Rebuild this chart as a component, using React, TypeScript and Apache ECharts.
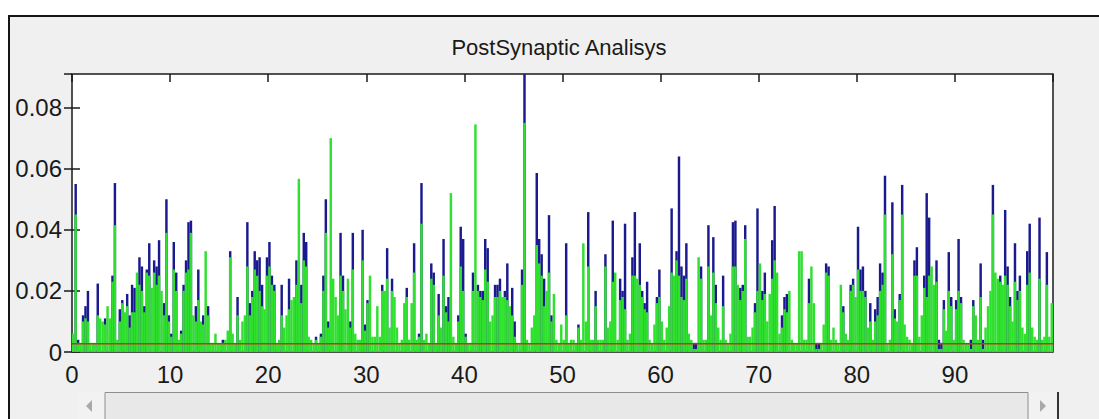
import React, { useEffect, useRef } from "react";
import * as echarts from "echarts";

const TITLE = "PostSynaptic Analisys";
const BIN_WIDTH = 0.25;
const X_MIN = 0;
const X_MAX = 100;
const X_INTERVAL = 10;
const Y_MIN = 0;
const Y_MAX = 0.091;
const Y_INTERVAL = 0.02;
const THRESHOLD = 0.0027;

// green series (one value per 0.25-wide bin, 0..100)
const GREEN = [
  0.006, 0.045, 0.003, 0.003, 0.010, 0.011, 0.010, 0.003, 0.003, 0.003,
  0.012, 0.011, 0.010, 0.009, 0.015, 0.011, 0.023, 0.0415, 0.004, 0.010,
  0.016, 0.013, 0.015, 0.008, 0.013, 0.013, 0.026, 0.022, 0.020, 0.013,
  0.026, 0.025, 0.021, 0.026, 0.022, 0.025, 0.020, 0.012, 0.039, 0.010,
  0.005, 0.027, 0.020, 0.004, 0.006, 0.020, 0.026, 0.027, 0.039, 0.012,
  0.010, 0.017, 0.010, 0.009, 0.033, 0.012, 0.003, 0.003, 0.006, 0.003,
  0.003, 0.003, 0.004, 0.007, 0.031, 0.006, 0.003, 0.012, 0.004, 0.010,
  0.012, 0.028, 0.012, 0.018, 0.027, 0.025, 0.020, 0.015, 0.014, 0.025,
  0.028, 0.022, 0.020, 0.003, 0.004, 0.012, 0.008, 0.012, 0.014, 0.017,
  0.018, 0.022, 0.0567, 0.016, 0.030, 0.028, 0.005, 0.004, 0.003, 0.004,
  0.003, 0.005, 0.020, 0.039, 0.008, 0.070, 0.024, 0.018, 0.012, 0.025,
  0.020, 0.014, 0.024, 0.008, 0.027, 0.006, 0.004, 0.004, 0.030, 0.007,
  0.016, 0.025, 0.005, 0.005, 0.015, 0.005, 0.020, 0.020, 0.024, 0.008,
  0.020, 0.018, 0.008, 0.003, 0.004, 0.016, 0.018, 0.004, 0.016, 0.026,
  0.004, 0.005, 0.042, 0.004, 0.006, 0.003, 0.024, 0.022, 0.003, 0.012,
  0.008, 0.025, 0.013, 0.010, 0.052, 0.005, 0.003, 0.010, 0.028, 0.020,
  0.005, 0.003, 0.003, 0.020, 0.0745, 0.020, 0.018, 0.017, 0.027, 0.023,
  0.010, 0.012, 0.018, 0.018, 0.020, 0.018, 0.018, 0.017, 0.015, 0.012,
  0.005, 0.003, 0.003, 0.022, 0.075, 0.004, 0.003, 0.008, 0.012, 0.035,
  0.029, 0.025, 0.015, 0.020, 0.026, 0.010, 0.019, 0.004, 0.003, 0.009,
  0.004, 0.012, 0.003, 0.004, 0.004, 0.003, 0.008, 0.004, 0.0356, 0.010,
  0.028, 0.004, 0.004, 0.015, 0.004, 0.004, 0.004, 0.028, 0.008, 0.010,
  0.023, 0.026, 0.004, 0.017, 0.018, 0.014, 0.004, 0.006, 0.025, 0.025,
  0.024, 0.022, 0.018, 0.014, 0.013, 0.004, 0.003, 0.009, 0.016, 0.018,
  0.010, 0.004, 0.008, 0.015, 0.026, 0.025, 0.030, 0.025, 0.018, 0.017,
  0.024, 0.006, 0.004, 0.001, 0.001, 0.031, 0.024, 0.004, 0.004, 0.028,
  0.012, 0.026, 0.016, 0.008, 0.004, 0.015, 0.004, 0.003, 0.006, 0.028,
  0.028, 0.022, 0.017, 0.020, 0.037, 0.005, 0.005, 0.008, 0.013, 0.020,
  0.029, 0.017, 0.019, 0.010, 0.019, 0.024, 0.030, 0.026, 0.006, 0.008,
  0.014, 0.013, 0.020, 0.004, 0.003, 0.003, 0.033, 0.033, 0.004, 0.004,
  0.016, 0.028, 0.016, 0.001, 0.001, 0.003, 0.009, 0.026, 0.025, 0.004,
  0.008, 0.004, 0.003, 0.022, 0.013, 0.006, 0.004, 0.020, 0.022, 0.018,
  0.027, 0.020, 0.020, 0.018, 0.008, 0.010, 0.004, 0.010, 0.012, 0.020,
  0.022, 0.045, 0.003, 0.004, 0.032, 0.011, 0.010, 0.017, 0.045, 0.009,
  0.005, 0.004, 0.003, 0.025, 0.025, 0.005, 0.012, 0.021, 0.018, 0.025,
  0.028, 0.022, 0.023, 0.001, 0.001, 0.014, 0.007, 0.020, 0.015, 0.004,
  0.014, 0.020, 0.016, 0.004, 0.003, 0.003, 0.001, 0.015, 0.012, 0.004,
  0.018, 0.001, 0.008, 0.015, 0.020, 0.045, 0.026, 0.024, 0.023, 0.022,
  0.025, 0.022, 0.015, 0.010, 0.023, 0.017, 0.020, 0.008, 0.006, 0.022,
  0.026, 0.008, 0.005, 0.004, 0.024, 0.004, 0.005, 0.022, 0.005, 0.016,
];

// blue series (0 where it stays hidden under the green one)
const BLUE = [
  0, 0.055, 0.004, 0, 0.012, 0.015, 0.020, 0, 0, 0,
  0.0224, 0, 0, 0.011, 0, 0, 0.025, 0.0553, 0, 0.014,
  0.017, 0, 0.019, 0.012, 0.022, 0.021, 0, 0.031, 0.028, 0.015,
  0.027, 0.0356, 0, 0.030, 0.028, 0.0366, 0, 0.016, 0.050, 0.012,
  0.006, 0.036, 0.026, 0, 0.007, 0.022, 0.030, 0.0425, 0.043, 0,
  0.015, 0.027, 0, 0.012, 0, 0.015, 0, 0, 0, 0,
  0, 0.004, 0, 0, 0.033, 0, 0, 0.018, 0, 0,
  0, 0.0425, 0.016, 0.020, 0.033, 0.030, 0.031, 0.022, 0, 0.031,
  0.036, 0.025, 0.022, 0, 0, 0.022, 0, 0, 0.024, 0,
  0, 0.030, 0, 0.022, 0.039, 0.036, 0, 0, 0, 0.005,
  0, 0.006, 0.025, 0.050, 0.010, 0, 0, 0, 0, 0.039,
  0.025, 0, 0, 0.010, 0.039, 0, 0, 0, 0.040, 0.009,
  0.017, 0, 0, 0, 0, 0, 0.022, 0, 0.034, 0,
  0.024, 0, 0, 0, 0, 0, 0.021, 0, 0, 0.0356,
  0, 0.006, 0.0553, 0, 0, 0, 0.029, 0.026, 0, 0.019,
  0, 0.037, 0.015, 0.018, 0, 0, 0, 0.012, 0.041, 0.037,
  0.006, 0, 0, 0.026, 0, 0.022, 0.020, 0.020, 0.037, 0.034,
  0, 0, 0.022, 0.022, 0.024, 0, 0.020, 0.029, 0, 0.021,
  0.010, 0, 0, 0.027, 0.091, 0, 0, 0, 0, 0.0586,
  0.037, 0.032, 0.024, 0, 0.0448, 0.012, 0, 0, 0, 0,
  0, 0.0356, 0, 0, 0, 0, 0.009, 0, 0, 0,
  0.0458, 0, 0, 0.020, 0, 0, 0, 0.032, 0, 0,
  0.043, 0, 0, 0.024, 0.020, 0.042, 0, 0, 0.031, 0.0458,
  0, 0.0356, 0.020, 0.016, 0.023, 0, 0, 0, 0.018, 0.027,
  0, 0, 0, 0, 0.047, 0, 0.033, 0.064, 0.028, 0.025,
  0.0356, 0, 0, 0.003, 0.003, 0, 0.028, 0, 0, 0.0415,
  0, 0.0376, 0.022, 0, 0, 0.025, 0, 0, 0, 0.0425,
  0.043, 0, 0.021, 0.022, 0.0415, 0, 0, 0, 0.016, 0.047,
  0, 0.020, 0.026, 0, 0, 0.0366, 0.0478, 0, 0, 0.012,
  0.018, 0.019, 0, 0, 0, 0, 0, 0, 0, 0,
  0.024, 0, 0, 0.003, 0.003, 0, 0, 0.029, 0.028, 0,
  0, 0, 0, 0, 0.015, 0, 0, 0.022, 0.024, 0,
  0.041, 0.027, 0.028, 0.020, 0, 0.016, 0, 0.014, 0.018, 0.029,
  0.026, 0.0577, 0, 0, 0.049, 0.014, 0, 0.019, 0.0547, 0,
  0, 0, 0, 0.030, 0.0343, 0, 0, 0.025, 0.052, 0.044,
  0, 0, 0.030, 0.004, 0.003, 0.017, 0, 0.0327, 0.018, 0,
  0.017, 0.037, 0.018, 0, 0, 0, 0.004, 0.017, 0, 0,
  0.029, 0.004, 0, 0, 0, 0.0547, 0, 0, 0.025, 0,
  0.0465, 0.028, 0.018, 0, 0.0356, 0.020, 0.025, 0, 0, 0.033,
  0.042, 0, 0, 0, 0.044, 0, 0, 0.0327, 0, 0,
];

const CATEGORIES = GREEN.map((_, i) => (i * BIN_WIDTH).toFixed(2));
const THRESHOLD_LINE = [
  [X_MIN, THRESHOLD],
  [X_MAX, THRESHOLD],
];

const FONT = "'Liberation Sans', Arial, sans-serif";
const INK = "#1a1a1a";

export default function App() {
  const ref = useRef<HTMLDivElement>(null);

  useEffect(() => {
    if (!ref.current) return;
    const chart = echarts.init(ref.current, undefined, { renderer: "svg" });

    chart.setOption({
      animation: false,
      title: {
        text: TITLE,
        left: 554,
        top: 31,
        textAlign: "center",
        textStyle: { fontSize: 22, fontWeight: "normal", color: INK, fontFamily: FONT },
      },
      grid: {
        left: 72,
        top: 74,
        width: 981,
        height: 278,
        show: true,
        backgroundColor: "#ffffff",
        borderColor: INK,
        borderWidth: 1.5,
      },
      xAxis: [
        {
          type: "category",
          data: CATEGORIES,
          boundaryGap: true,
          show: false,
        },
        {
          type: "value",
          min: X_MIN,
          max: X_MAX,
          interval: X_INTERVAL,
          position: "bottom",
          axisLine: { show: false },
          axisTick: { show: false },
          splitLine: { show: false },
          axisLabel: {
            showMaxLabel: false,
            margin: 10,
            fontSize: 24,
            color: INK,
            fontFamily: FONT,
          },
        },
        {
          type: "value",
          min: X_MIN,
          max: X_MAX,
          interval: X_INTERVAL,
          position: "top",
          axisLine: { show: false },
          axisTick: { show: true, inside: true, length: 8, lineStyle: { color: INK, width: 1.5 } },
          splitLine: { show: false },
          axisLabel: { show: false },
        },
      ],
      yAxis: [
        {
          type: "value",
          min: Y_MIN,
          max: Y_MAX,
          interval: Y_INTERVAL,
          axisLine: { show: false },
          axisTick: { show: true, inside: true, length: 8, lineStyle: { color: INK, width: 1.5 } },
          splitLine: { show: false },
          axisLabel: {
            showMaxLabel: false,
            margin: 10,
            fontSize: 24,
            color: INK,
            fontFamily: FONT,
            formatter: (v: number) => (v === 0 ? "0" : v.toFixed(2)),
          },
        },
        {
          type: "value",
          min: Y_MIN,
          max: Y_MAX,
          interval: Y_INTERVAL,
          position: "right",
          axisLine: { show: false },
          axisTick: { show: true, inside: true, length: 8, lineStyle: { color: INK, width: 1.5 } },
          splitLine: { show: false },
          axisLabel: { show: false },
        },
      ],
      series: [
        {
          type: "bar",
          name: "blue",
          xAxisIndex: 0,
          yAxisIndex: 0,
          data: BLUE,
          barGap: "-100%",
          barCategoryGap: "0%",
          itemStyle: { color: "#1a1a8e" },
          silent: true,
        },
        {
          type: "bar",
          name: "green",
          xAxisIndex: 0,
          yAxisIndex: 0,
          data: GREEN,
          barGap: "-100%",
          barCategoryGap: "0%",
          itemStyle: { color: "#2fe02f" },
          silent: true,
        },
        {
          type: "line",
          name: "threshold",
          xAxisIndex: 1,
          yAxisIndex: 0,
          data: THRESHOLD_LINE,
          symbol: "none",
          z: 10,
          silent: true,
          lineStyle: { color: "#c0391a", width: 1.5 },
        },
      ],
      graphic: [
        { type: "rect", shape: { x: 77, y: 392, width: 981, height: 30 }, style: { fill: "#f2f2f2" }, silent: true },
        { type: "rect", shape: { x: 105, y: 392.5, width: 923, height: 30 }, style: { fill: "#e8e8e8", stroke: "#8e8e8e", lineWidth: 1 }, silent: true },
        { type: "polygon", shape: { points: [[92, 400], [86, 406], [92, 412]] }, style: { fill: "#a9a9a9" }, silent: true },
        { type: "polygon", shape: { points: [[1040, 400], [1046, 406], [1040, 412]] }, style: { fill: "#a9a9a9" }, silent: true },
        { type: "line", shape: { x1: 1058, y1: 392, x2: 1058, y2: 419 }, style: { stroke: "#333333", lineWidth: 2 }, silent: true },
      ],
    });

    return () => chart.dispose();
  }, []);

  return (
    <div style={{ position: "absolute", left: 0, top: 0, width: 1099, height: 419, background: "#ffffff", overflow: "hidden" }}>
      <div
        style={{
          position: "absolute",
          left: 8,
          top: 15,
          width: 1100,
          height: 420,
          background: "#f0f0f0",
          border: "2px solid #151515",
        }}
      />
      <div ref={ref} style={{ position: "absolute", left: 0, top: 0, width: 1099, height: 419 }} />
    </div>
  );
}
